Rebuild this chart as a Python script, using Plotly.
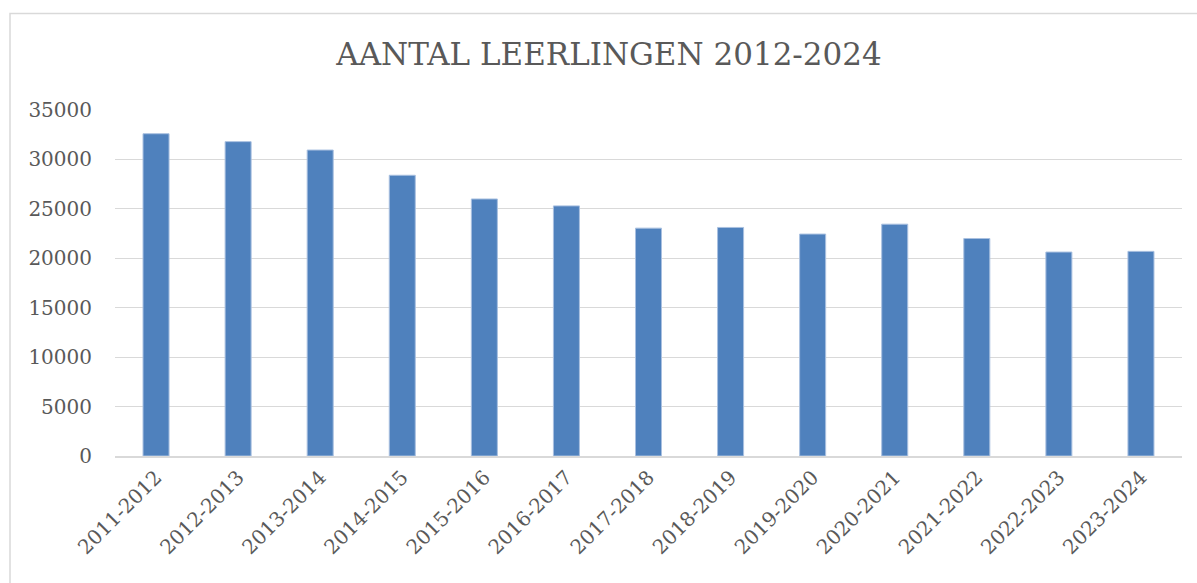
import plotly.graph_objects as go

categories = ["2011-2012", "2012-2013", "2013-2014", "2014-2015", "2015-2016",
              "2016-2017", "2017-2018", "2018-2019", "2019-2020", "2020-2021",
              "2021-2022", "2022-2023", "2023-2024"]
leerlingen = [32600, 31800, 30950, 28400, 26000, 25300, 23050, 23120, 22450,
              23450, 22000, 20630, 20700]
y_ticks = [0, 5000, 10000, 15000, 20000, 25000, 30000, 35000]

W, H = 1197, 583
L, R, T, B = 115, 15, 110, 127
pw, ph = W - L - R, H - T - B

def px(x):
    return (x - L) / pw

def py(y):
    return (H - B - y) / ph

FONT = "DejaVu Serif"
GRAY = "#595959"

fig = go.Figure(go.Bar(
    x=categories, y=leerlingen,
    marker=dict(color="#4f81bd", line=dict(color="#a9c0e0", width=1)),
))

fig.update_layout(
    width=W, height=H,
    margin=dict(l=L, r=R, t=T, b=B),
    paper_bgcolor="white", plot_bgcolor="white",
    bargap=0.683,
    showlegend=False,
    title=dict(text="AANTAL LEERLINGEN 2012-2024", x=609 / W, xref="container",
               xanchor="center", y=1 - 54 / H, yanchor="middle",
               font=dict(family=FONT, size=31, color=GRAY)),
    font=dict(family=FONT, size=20, color=GRAY),
    xaxis=dict(tickangle=-45, showgrid=False, showline=True, linecolor="#d9d9d9",
               linewidth=1.5, ticks="", tickfont=dict(size=20, color=GRAY)),
    yaxis=dict(range=[0, 35000], tickvals=y_ticks,
               ticktext=[str(v) for v in y_ticks], showgrid=True,
               gridcolor="#d9d9d9", gridwidth=1.3, zeroline=False,
               showline=False, ticks="", ticklen=0,
               tickfont=dict(size=20, color=GRAY)),
    shapes=[dict(type="rect", xref="paper", yref="paper",
                 x0=px(10), x1=px(W + 20), y0=py(H + 20), y1=py(13.5),
                 line=dict(color="#d9d9d9", width=1.5), fillcolor="rgba(0,0,0,0)",
                 layer="below")],
)
fig.update_yaxes(ticklabelstandoff=22)

fig.write_html("out.html", config={"displayModeBar": False},
               post_script="document.body.style.margin='0';")
